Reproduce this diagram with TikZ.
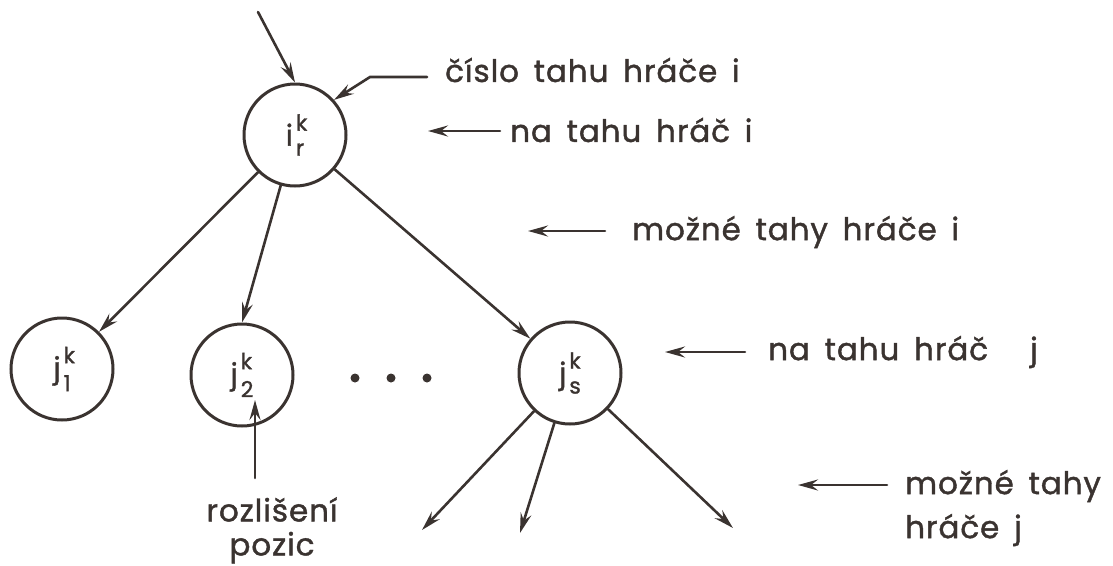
\documentclass[tikz,border=0pt]{standalone}
\usepackage{fontspec}
\setmainfont{Poppins}
\newfontfamily\lblfont{Poppins}[LetterSpace=3,WordSpace=1.6,FakeBold=1.3]
\newfontfamily\posfont{Poppins}[FakeBold=1.3]
\usetikzlibrary{arrows.meta,calc}
\definecolor{ink}{HTML}{3A3330}
% position symbol: letter with player index above and move number below
\newcommand{\pos}[4][13pt]{#2\kern3pt\rlap{\raisebox{15pt}{\fontsize{22}{22}\selectfont #3}}%
  \raisebox{-#1}{\fontsize{22}{22}\selectfont #4}}
\begin{document}
\begin{tikzpicture}[x=1pt,y=-1pt,
  state/.style={circle, draw=ink, line width=3pt, minimum size=102pt, inner sep=0pt,
                text=ink, font=\posfont\fontsize{29}{30}\selectfont},
  link/.style={draw=ink, line width=2.6pt, line cap=round,
               -{Stealth[length=20pt,width=11pt,inset=7pt]}},
  lbl/.style={text=ink, font=\lblfont\fontsize{31}{44}\selectfont, inner sep=0pt, anchor=west},
  dot/.style={circle, fill=ink, inner sep=0pt, minimum size=9pt}]
\useasboundingbox (0,0) rectangle (1113,565);

% game tree nodes
\node[state] (root) at (295,135) {\pos[10pt]{i}{k}{r}};
\node[state] (c1) at (62,369) {\pos{j}{k}{1}};
\node[state] (c2) at (242,375) {\pos{j}{k}{2}};
\node[state] (cs) at (570,373) {\pos[10pt]{j}{k}{s}};
\node[dot] (d1) at (355,378) {};
\node[dot] (d2) at (391,378) {};
\node[dot] (d3) at (427,378) {};

% explanatory labels
\node[lbl] (L1) at (445,70) {číslo tahu hráče i};
\node[lbl] (L2) at (510,130) {na tahu hráč i};
\node[lbl] (L3) at (632,232) {možné tahy hráče i};
\node[lbl] (L4) at (768,352) {na tahu hráč\hspace{42pt}j};
\node[lbl, align=left] (L5) at (905,508) {možné tahy\\hráče j};
\node[lbl, anchor=north, align=center, font=\lblfont\fontsize{31}{34}\selectfont] (roz) at (272,497) {rozlišení\\pozic};

% free ends
\coordinate (in) at (258,12);
\coordinate (bend) at (370,77);
\coordinate (t2) at (428,131);
\coordinate (t3) at (528,231);
\coordinate (t4) at (665,352);
\coordinate (t5) at (798,485);
\coordinate (rt) at (255,400);
\coordinate (e1) at (422,530);
\coordinate (e2) at (520,533);
\coordinate (e3) at (733,528);

% tree edges
\draw[link] (in) -- (root.north);
\draw[link] (root) -- (c1);
\draw[link] (root) -- (c2.north);
\draw[link] (root) -- (cs);
\draw[link] (cs) -- (e1);
\draw[link] (cs) -- (e2);
\draw[link] (cs) -- (e3);

% label pointers
\draw[link] ($(L1.west)+(-18,7)$) -- (bend) -- (root.42);
\draw[link] ($(L2.west |- t2)+(-10,0)$) -- (t2);
\draw[link] ($(L3.west |- t3)+(-27,0)$) -- (t3);
\draw[link] ($(L4.west |- t4)+(-23,0)$) -- (t4);
\draw[link] ($(L5.west |- t5)+(-18,0)$) -- (t5);
\draw[link] ($(roz.north -| rt)+(0,-19)$) -- (rt);
\end{tikzpicture}
\end{document}
